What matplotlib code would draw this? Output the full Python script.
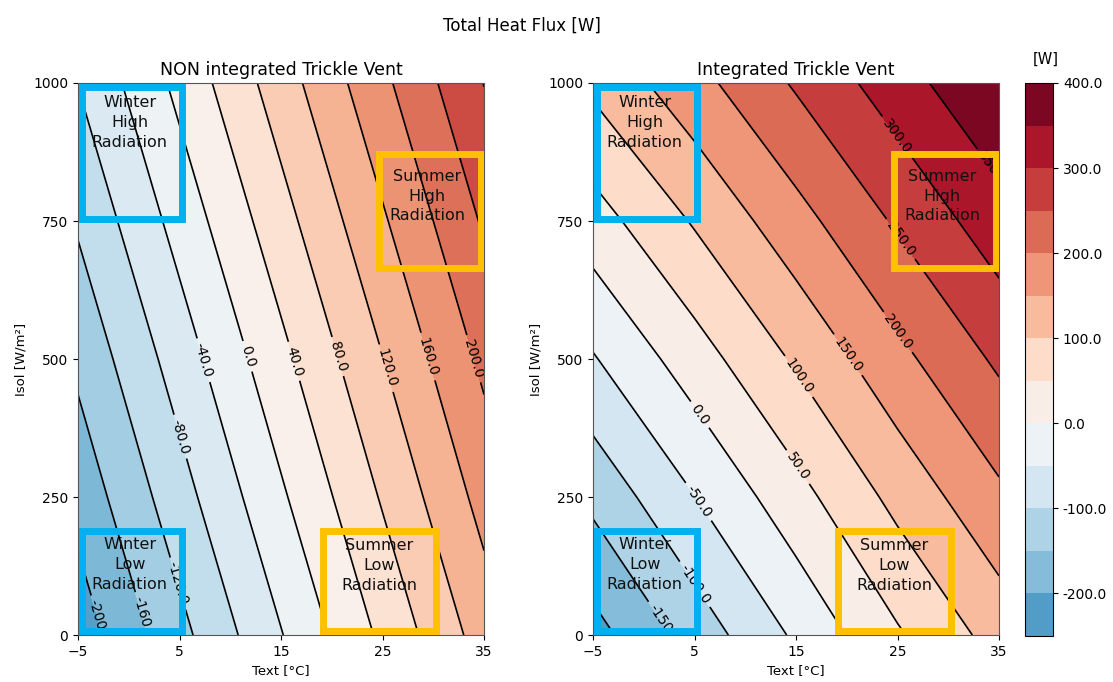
import numpy as np
import matplotlib.pyplot as plt
from matplotlib.colors import Normalize
from matplotlib.patches import Rectangle

# grid of outdoor temperature [°C] and solar irradiance [W/m2]
text_c = [-5, 5, 15, 25, 35]
isol = [0, 250, 500, 750, 1000]

# total heat flux [W], rows follow isol, columns follow text_c
q_non = [[-222, -132, -42, 48, 138],
         [-186, -96, -6, 84, 174],
         [-151, -61, 29, 119, 209],
         [-115, -25, 65, 155, 245],
         [-79, 11, 101, 191, 281]]
q_int = [[-219, -129, -42, 44, 120],
         [-137, -51, 32, 115, 190],
         [-54, 27, 107, 186, 259],
         [28, 105, 182, 257, 329],
         [111, 183, 256, 328, 398]]

levels_non = np.arange(-240, 321, 40)
levels_int = np.arange(-250, 401, 50)
cbar_ticks = [-200, -100, 0, 100, 200, 300, 400]

# where the contour labels sit (Text, Isol)
lab_non = [(-2.5, 27), (1.9, 33), (5.0, 94), (5.0, 359), (7.4, 498), (11.9, 506),
           (16.1, 495), (20.5, 504), (25.3, 483), (29.4, 504), (33.5, 498)]
lab_int = [(2.1, 21), (5.2, 94), (5.2, 239), (5.2, 395), (15.0, 302), (15.0, 465),
           (20.3, 510), (24.9, 547), (25.2, 716), (24.9, 903), (34.1, 842)]

# season boxes: Text range, Isol range, edge colour, label, label position
boxes = [((-4.65, 5.25), (753, 992), '#00b0f0', 'Winter\nHigh\nRadiation', (0.1, 928)),
         ((-4.65, 5.25), (7, 188), '#00b0f0', 'Winter\nLow\nRadiation', (0.1, 128)),
         ((24.65, 34.7), (665, 871), '#ffc000', 'Summer\nHigh\nRadiation', (29.4, 795)),
         ((19.15, 30.25), (8, 188), '#ffc000', 'Summer\nLow\nRadiation', (24.7, 126))]

norm = Normalize(vmin=-400, vmax=400)
cmap = 'RdBu_r'

fig = plt.figure(figsize=(11.13, 6.82), dpi=100)
ax1 = fig.add_axes([0.0701, 0.0689, 0.3648, 0.8094])
ax2 = fig.add_axes([0.5328, 0.0689, 0.3648, 0.8094])
cax = fig.add_axes([0.921, 0.0675, 0.0252, 0.8108])

panels = [(ax1, q_non, levels_non, lab_non, 'NON integrated Trickle Vent'),
          (ax2, q_int, levels_int, lab_int, 'Integrated Trickle Vent')]

for ax, q, levels, labpos, title in panels:
    cf = ax.contourf(text_c, isol, q, levels=levels, cmap=cmap, norm=norm)
    cs = ax.contour(text_c, isol, q, levels=levels, colors='k', linewidths=1.2,
                    linestyles='solid', negative_linestyles='solid')
    ax.clabel(cs, fmt='%1.1f', fontsize=10, inline=True, manual=labpos)
    for (t0, t1), (i0, i1), col, txt, (tx, ty) in boxes:
        ax.add_patch(Rectangle((t0, i0), t1 - t0, i1 - i0, fill=False,
                               edgecolor=col, linewidth=5, zorder=5))
        ax.text(tx, ty, txt, ha='center', va='center', fontsize=11.5,
                color='#111111', zorder=6, linespacing=1.4)
    ax.set_xlim(-5, 35)
    ax.set_ylim(0, 1000)
    ax.set_xticks(text_c)
    ax.set_yticks(isol)
    ax.tick_params(labelsize=10)
    ax.set_xlabel('Text [°C]', fontsize=9.5)
    ax.set_ylabel('Isol [W/m²]', fontsize=9.5)
    ax.set_title(title, fontsize=12.5)
    for sp in ax.spines.values():
        sp.set_color('#555555')

cbar = fig.colorbar(cf, cax=cax, ticks=cbar_ticks, format='%.1f')
cbar.ax.tick_params(labelsize=10)
cbar.ax.set_title('[W]', fontsize=10.5, pad=14, x=0.75)

fig.suptitle('Total Heat Flux [W]', fontsize=12, x=0.469, y=0.975)

fig.savefig('out.png', dpi=100)
